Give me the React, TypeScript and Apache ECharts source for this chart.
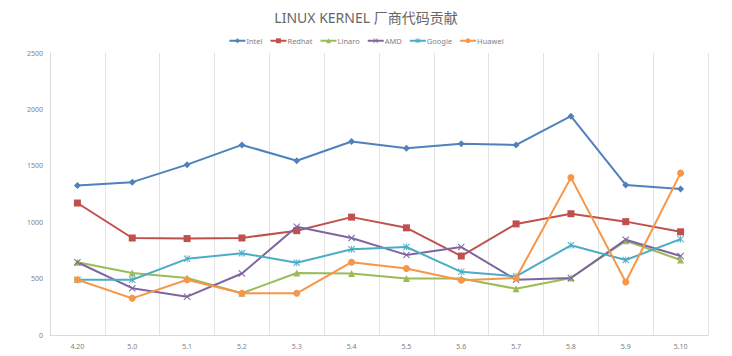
import React, { useEffect, useRef } from "react";
import * as echarts from "echarts";

const categories = ["4.20", "5.0", "5.1", "5.2", "5.3", "5.4", "5.5", "5.6", "5.7", "5.8", "5.9", "5.10"];
const intel = [1325, 1355, 1510, 1685, 1545, 1715, 1655, 1695, 1685, 1940, 1330, 1295];
const redhat = [1170, 860, 855, 860, 925, 1045, 950, 700, 985, 1075, 1005, 915];
const linaro = [645, 550, 505, 370, 550, 545, 500, 500, 410, 505, 835, 665];
const amd = [645, 415, 340, 545, 960, 860, 710, 780, 490, 505, 845, 700];
const google = [490, 490, 675, 725, 640, 760, 780, 560, 520, 795, 665, 850];
const huawei = [490, 325, 490, 370, 370, 645, 590, 485, 505, 1395, 470, 1435];

const seriesNames = ["Intel", "Redhat", "Linaro", "AMD", "Google", "Huawei"];
const colors = ["#4F81BD", "#C0504D", "#9BBB59", "#8064A2", "#4BACC6", "#F79646"];

const xSymbol = "path://M0,1L1,0L5,4L9,0L10,1L6,5L10,9L9,10L5,6L1,10L0,9L4,5Z";
const starSymbol =
  "path://M0,1L1,0L5,4L9,0L10,1L6,5L10,9L9,10L5,6L1,10L0,9L4,5Z M4.4,0L5.6,0L5.6,10L4.4,10Z";
const symbols = ["diamond", "rect", "triangle", xSymbol, starSymbol, "circle"];
const symbolSizes = [7, 7, 7, 7, 7, 7];

export default function App() {
  const ref = useRef<HTMLDivElement>(null);
  useEffect(() => {
    if (!ref.current) return;
    const chart = echarts.init(ref.current, null, { renderer: "svg" });
    const data = [intel, redhat, linaro, amd, google, huawei];
    const font = "'Noto Sans', 'Noto Sans CJK SC', sans-serif";
    chart.setOption({
      animation: false,
      color: colors,
      title: {
        text: "LINUX KERNEL 厂商代码贡献",
        left: "center",
        top: 5,
        textStyle: { fontSize: 14, fontWeight: "normal", color: "#666666", fontFamily: font },
      },
      legend: {
        top: 32,
        left: "center",
        itemWidth: 16,
        itemHeight: 6,
        itemGap: 7,
        textStyle: { fontSize: 7.5, color: "#808080", fontFamily: font, padding: [0, 0, 0, -4] },
        data: seriesNames,
      },
      grid: { left: 50, right: 24, top: 53, bottom: 21, containLabel: false },
      xAxis: {
        type: "category",
        data: categories,
        boundaryGap: true,
        axisLine: { show: true, lineStyle: { color: "#d9d9d9" } },
        axisTick: { show: false },
        axisLabel: { fontSize: 7, color: "#808080", margin: 8, fontFamily: font },
        splitLine: { show: true, lineStyle: { color: "#e3e3e3" } },
      },
      yAxis: {
        type: "value",
        min: 0,
        max: 2500,
        interval: 500,
        axisLine: { show: true, lineStyle: { color: "#d9d9d9" } },
        axisTick: { show: false },
        splitLine: { show: false },
        axisLabel: {
          fontSize: 7,
          color: "#808080",
          margin: 7,
          fontFamily: font,
          formatter: (v: number) => String(v),
        },
      },
      series: seriesNames.map((name, i) => ({
        name,
        type: "line",
        data: data[i],
        symbol: symbols[i],
        symbolSize: symbolSizes[i],
        showAllSymbol: true,
        lineStyle: { width: 2, color: colors[i] },
        itemStyle: { color: colors[i] },
      })),
    });
    return () => chart.dispose();
  }, []);
  return <div ref={ref} style={{ width: 732, height: 356, position: "absolute", left: 0, top: 0 }} />;
}
